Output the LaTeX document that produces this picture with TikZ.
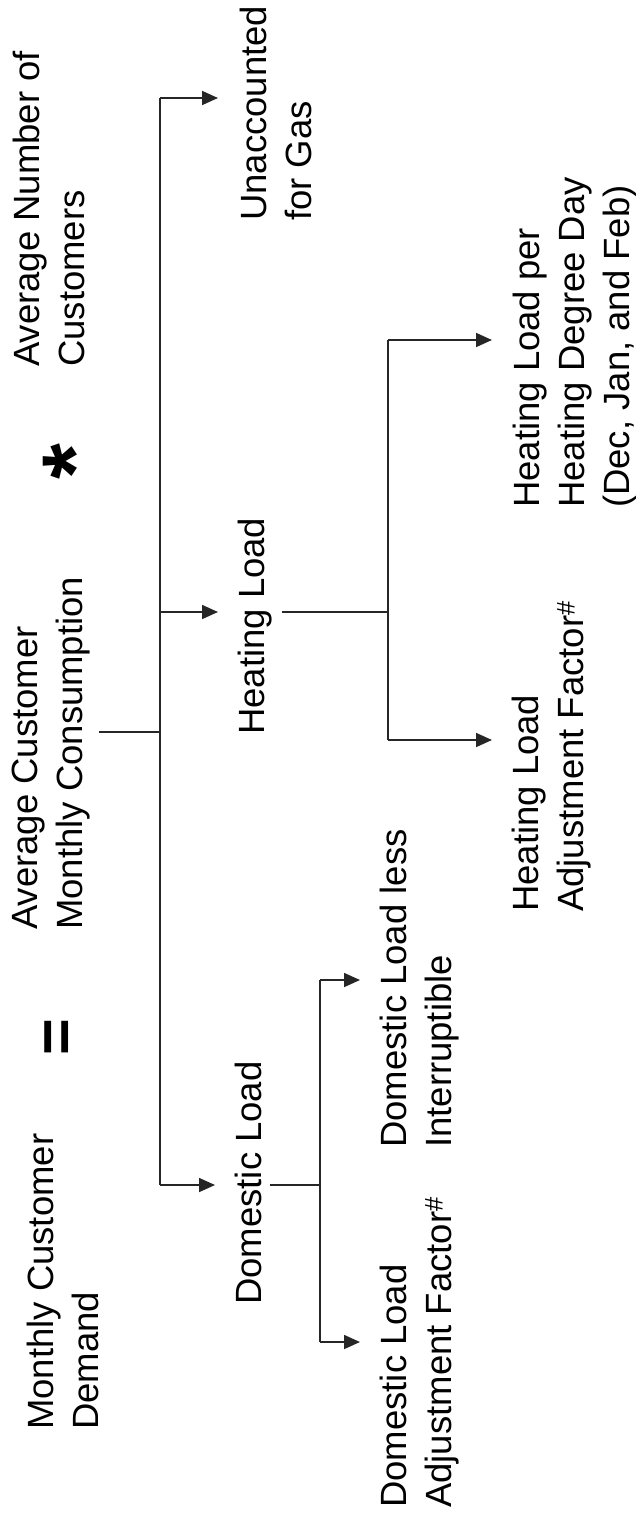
\documentclass[tikz,border=0pt]{standalone}
\usepackage{fontspec}
\setmainfont{Liberation Sans}
\usetikzlibrary{arrows.meta}
\newcommand{\lblfont}{\fontsize{36.5}{45}\selectfont}
\begin{document}
\begin{tikzpicture}[x=1pt,y=-1pt,
  lbl/.style={rotate=90, anchor=north west, inner sep=0pt, align=left, font=\lblfont},
  sym/.style={rotate=90, anchor=center, inner sep=0pt},
  ln/.style={line width=1.7pt, draw=black!85},
  arr/.style={ln, -{Triangle[length=16pt,width=14pt]}}]
\useasboundingbox (0,0) rectangle (636,1534);
% texts
\node[lbl] (mcd) at (27,1430) {Monthly Customer\\Demand};
\node[sym, font=\fontsize{63}{63}\selectfont\bfseries] (eq) at (61,1037) {=};
\node[lbl] (acmc) at (12,930) {Average Customer\\Monthly Consumption};
\node[sym, font=\fontsize{92}{92}\selectfont\bfseries] (star) at (75,462) {*};
\node[lbl] (anc) at (13,367) {Average Number of\\Customers};
\node[lbl] (ua) at (240,221) {Unaccounted\\for Gas};
\node[lbl] (hl) at (238,735) {Heating Load};
\node[lbl] (dl) at (235,1305) {Domestic Load};
\node[lbl] (hlpd) at (513,508) {Heating Load per\\Heating Degree Day\\(Dec, Jan, and Feb)};
\node[lbl] (hlaf) at (512,912) {Heating Load\\Adjustment Factor\textsuperscript{\#}};
\node[lbl] (dlli) at (380,1148) {Domestic Load less\\Interruptible};
\node[lbl] (dlaf) at (380,1508) {Domestic Load\\Adjustment Factor\textsuperscript{\#}};
% junctions
\coordinate (t1) at (160,98);
\coordinate (t2) at (160,612);
\coordinate (t3) at (160,732);
\coordinate (t4) at (160,1185);
\coordinate (h1) at (388,340);
\coordinate (h2) at (388,612);
\coordinate (h3) at (388,740);
\coordinate (d1) at (320,980);
\coordinate (d2) at (320,1185);
\coordinate (d3) at (320,1342);
% main trunk
\draw[ln] ([xshift=9pt]acmc.south |- t3) -- (t3);
\draw[ln] (t1) -- (t4);
\draw[arr, shorten >=22pt] (t1) -- (t1 -| ua.north);
\draw[arr, shorten >=20pt] (t2) -- (t2 -| hl.north);
\draw[arr, shorten >=20pt] (t4) -- (t4 -| dl.north);
% heating branch
\draw[ln] ([xshift=10pt]hl.south |- h2) -- (h2);
\draw[ln] (h1) -- (h3);
\draw[arr, shorten >=21pt] (h1) -- (h1 -| hlpd.north);
\draw[arr, shorten >=20pt] (h3) -- (h3 -| hlaf.north);
% domestic branch
\draw[ln] ([xshift=8pt]dl.south |- d2) -- (d2);
\draw[ln] (d1) -- (d3);
\draw[arr, shorten >=20pt] (d1) -- (d1 -| dlli.north);
\draw[arr, shorten >=20pt] (d3) -- (d3 -| dlaf.north);
\end{tikzpicture}
\end{document}
